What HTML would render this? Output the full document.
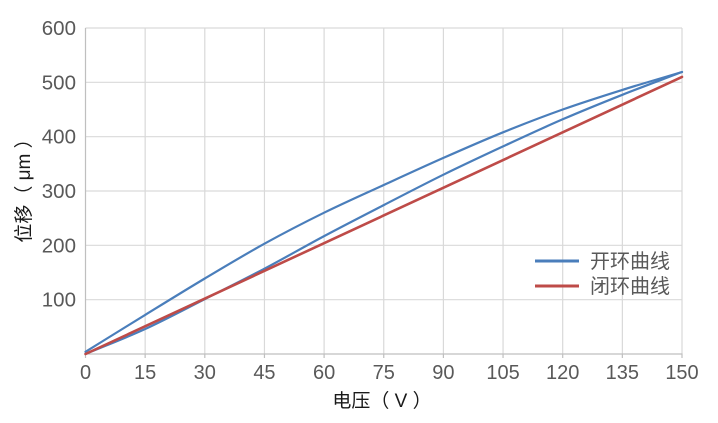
<!DOCTYPE html>
<html>
<head>
<meta charset="utf-8">
<style>
html,body{margin:0;padding:0;background:#fff;}
svg{display:block;}
text{font-family:"Liberation Sans","Noto Sans CJK SC",sans-serif;fill:#595959;}
</style>
</head>
<body>
<svg width="718" height="423" viewBox="0 0 718 423" xmlns="http://www.w3.org/2000/svg">
  <rect width="718" height="423" fill="#fff"/>
  <!-- horizontal gridlines -->
  <g stroke="#d9d9d9" stroke-width="1.2">
    <line x1="85.5" y1="28" x2="682" y2="28"/>
    <line x1="85.5" y1="82.3" x2="682" y2="82.3"/>
    <line x1="85.5" y1="136.7" x2="682" y2="136.7"/>
    <line x1="85.5" y1="191" x2="682" y2="191"/>
    <line x1="85.5" y1="245.3" x2="682" y2="245.3"/>
    <line x1="85.5" y1="299.7" x2="682" y2="299.7"/>
    <!-- vertical gridlines -->
    <line x1="145.15" y1="28" x2="145.15" y2="354"/>
    <line x1="204.8" y1="28" x2="204.8" y2="354"/>
    <line x1="264.45" y1="28" x2="264.45" y2="354"/>
    <line x1="324.1" y1="28" x2="324.1" y2="354"/>
    <line x1="383.75" y1="28" x2="383.75" y2="354"/>
    <line x1="443.4" y1="28" x2="443.4" y2="354"/>
    <line x1="503.05" y1="28" x2="503.05" y2="354"/>
    <line x1="562.7" y1="28" x2="562.7" y2="354"/>
    <line x1="622.35" y1="28" x2="622.35" y2="354"/>
    <line x1="682" y1="28" x2="682" y2="354"/>
  </g>
  <!-- axes -->
  <g stroke="#bfbfbf" stroke-width="1.2">
    <line x1="85.5" y1="28" x2="85.5" y2="354"/>
    <line x1="85.5" y1="354" x2="682.5" y2="354"/>
    <line x1="85.5" y1="354" x2="85.5" y2="358"/>
    <line x1="145.15" y1="354" x2="145.15" y2="358"/>
    <line x1="204.8" y1="354" x2="204.8" y2="358"/>
    <line x1="264.45" y1="354" x2="264.45" y2="358"/>
    <line x1="324.1" y1="354" x2="324.1" y2="358"/>
    <line x1="383.75" y1="354" x2="383.75" y2="358"/>
    <line x1="443.4" y1="354" x2="443.4" y2="358"/>
    <line x1="503.05" y1="354" x2="503.05" y2="358"/>
    <line x1="562.7" y1="354" x2="562.7" y2="358"/>
    <line x1="622.35" y1="354" x2="622.35" y2="358"/>
    <line x1="682" y1="354" x2="682" y2="358"/>
  </g>
  <!-- y tick labels -->
  <g font-size="20.5" text-anchor="end">
    <text x="76" y="35">600</text>
    <text x="76" y="89.3">500</text>
    <text x="76" y="143.7">400</text>
    <text x="76" y="198">300</text>
    <text x="76" y="252.3">200</text>
    <text x="76" y="306.7">100</text>
  </g>
  <!-- x tick labels -->
  <g font-size="20" text-anchor="middle">
    <text x="85.5" y="379">0</text>
    <text x="145.15" y="379">15</text>
    <text x="204.8" y="379">30</text>
    <text x="264.45" y="379">45</text>
    <text x="324.1" y="379">60</text>
    <text x="383.75" y="379">75</text>
    <text x="443.4" y="379">90</text>
    <text x="503.05" y="379">105</text>
    <text x="562.7" y="379">120</text>
    <text x="622.35" y="379">135</text>
    <text x="682" y="379">150</text>
  </g>
  <!-- axis titles -->
  <text x="382" y="407" font-size="19" text-anchor="middle" style="fill:#1a1a1a" xml:space="preserve">电压（ V ）</text>
  <text transform="translate(30,186) rotate(-90)" font-size="19" text-anchor="middle" style="fill:#1a1a1a" xml:space="preserve">位移（ μm ）</text>
  <!-- series -->
  <path fill="none" stroke="#4a7ebb" stroke-width="2.2" stroke-linecap="round"
    d="M85.5,351.8
C105.38,339.5 125.27,327.12 145.15,314.9
C165.03,302.68 184.92,290.37 204.8,278.5
C224.68,266.63 244.57,254.67 264.45,243.7
C284.33,232.73 304.22,222.48 324.1,212.7
C343.98,202.92 363.87,194.13 383.75,185.0
C403.63,175.87 423.52,166.68 443.4,157.9
C463.28,149.12 483.17,140.37 503.05,132.3
C522.93,124.23 542.82,116.57 562.7,109.5
C582.58,102.43 602.47,96.15 622.35,89.9
C642.23,83.65 662.12,77.97 682,72.0"/>
  <path fill="none" stroke="#4a7ebb" stroke-width="2.2" stroke-linecap="round"
    d="M85.5,354
C105.38,345.67 125.27,338.15 145.15,329.0
C165.03,319.85 184.92,309.15 204.8,299.1
C224.68,289.05 244.57,279.2 264.45,268.7
C284.33,258.2 304.22,246.7 324.1,236.1
C343.98,225.5 363.87,215.33 383.75,205.1
C403.63,194.87 423.52,184.48 443.4,174.7
C463.28,164.92 483.17,155.63 503.05,146.4
C522.93,137.17 542.82,127.9 562.7,119.3
C582.58,110.7 602.47,102.68 622.35,94.8
C642.23,86.92 662.12,79.6 682,72.0"/>
  <line x1="85.5" y1="354" x2="682" y2="76.9" stroke="#be4b48" stroke-width="2.6" stroke-linecap="round"/>
  <!-- legend -->
  <line x1="535" y1="261" x2="579" y2="261" stroke="#4a7ebb" stroke-width="3"/>
  <line x1="535" y1="286" x2="579" y2="286" stroke="#be4b48" stroke-width="3"/>
  <g font-size="20">
    <text x="590" y="268">开环曲线</text>
    <text x="590" y="293">闭环曲线</text>
  </g>
</svg>
</body>
</html>
